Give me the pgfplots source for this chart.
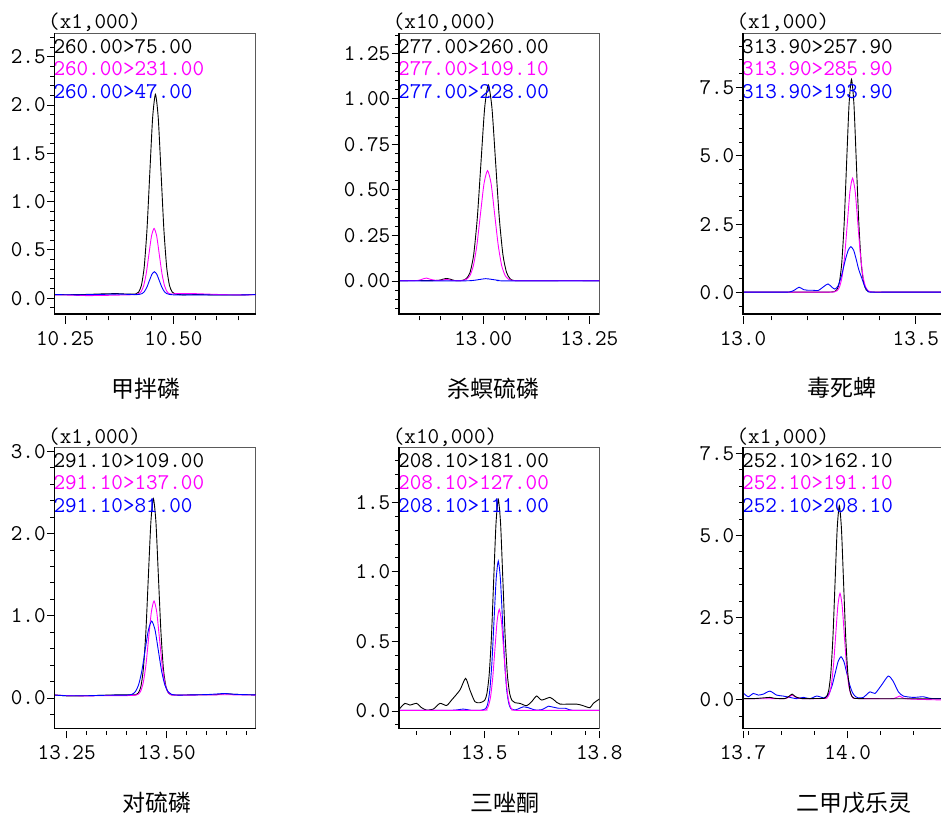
\documentclass[border=0pt]{standalone}
\usepackage{fontspec}
\usepackage{pgfplots}
\pgfplotsset{compat=1.18}
\newfontfamily\cjk{Noto Sans CJK SC}
\definecolor{mag}{HTML}{FF00FF}
\definecolor{blu}{HTML}{0000FF}
\definecolor{framegray}{HTML}{5A5A5A}
\newcommand\tf{\fontsize{22.5}{27}\selectfont\ttfamily}
\newcommand\ttl{\fontsize{23}{27}\selectfont\cjk}
\newcommand\m[1]{\texttt{#1}}
\pgfplotsset{
 chrom/.style={
  scale only axis, clip mode=individual,
  axis line style={draw=framegray, line width=1.5pt},
  tick align=outside, xtick pos=bottom, ytick pos=left,
  major tick length=7.5pt, minor tick length=4pt,
  tick style={black, line width=1pt},
  xtick style={yshift=-2.5pt},
  tick label style={font=\tf, inner sep=1pt},
  xticklabel style={anchor=base, yshift=-24pt},
  /pgf/number format/assume math mode=true,
  every axis plot/.append style={line width=0.9pt, no markers, smooth, tension=0.4},
 },
}
\newcommand\lbl[3]{%
  \node[anchor=base west, font=\tf, text=black, inner sep=0pt, xshift=-1pt, yshift=-20pt] at (rel axis cs:0,1) {#1};
  \node[anchor=base west, font=\tf, text=mag, inner sep=0pt, xshift=-1pt, yshift=-42.7pt] at (rel axis cs:0,1) {#2};
  \node[anchor=base west, font=\tf, text=blu, inner sep=0pt, xshift=-1pt, yshift=-65.4pt] at (rel axis cs:0,1) {#3};
  \draw[black, line width=1.3pt] (rel axis cs:0,1) -- (rel axis cs:0,0) -- (rel axis cs:1,0);
}
\begin{document}
\begin{tikzpicture}
\path[use as bounding box] (0pt,0pt) rectangle (941pt,814pt);

% ---------- Panel 1 ----------
\begin{axis}[chrom, at={(54.3pt,500pt)}, anchor=south west, width=201.4pt, height=280.7pt,
  xmin=10.225, xmax=10.690, ymin=-0.1625, ymax=2.742,
  xtick={10.25,10.50}, xticklabels={\m{10.25},\m{10.50}},
  minor xtick={10.30,10.35,10.40,10.45,10.55,10.60,10.65},
  ytick={0,0.5,1,1.5,2,2.5}, yticklabels={\m{0.0},\m{0.5},\m{1.0},\m{1.5},\m{2.0},\m{2.5}},
  minor ytick={-0.1,0,...,2.7}]
\addplot[black] coordinates {(10.225,0.038) (10.26,0.037) (10.30,0.040) (10.34,0.046) (10.37,0.048) (10.395,0.043) (10.413,0.045) (10.4195,0.063) (10.426,0.131) (10.4325,0.320) (10.439,0.712) (10.4455,1.296) (10.452,1.867) (10.4585,2.110) (10.465,1.867) (10.4715,1.296) (10.478,0.712) (10.4845,0.320) (10.491,0.131) (10.4975,0.063) (10.504,0.045) (10.52,0.036) (10.56,0.038) (10.60,0.034) (10.65,0.034) (10.69,0.040)};
\addplot[mag] coordinates {(10.225,0.036) (10.26,0.033) (10.30,0.028) (10.34,0.030) (10.38,0.034) (10.40,0.036) (10.4134,0.040) (10.4194,0.046) (10.4254,0.068) (10.4314,0.131) (10.4374,0.260) (10.4434,0.453) (10.4494,0.643) (10.4554,0.723) (10.4614,0.643) (10.4674,0.453) (10.4734,0.260) (10.4794,0.131) (10.4854,0.068) (10.4914,0.046) (10.4974,0.044) (10.51,0.050) (10.55,0.048) (10.60,0.040) (10.65,0.035) (10.69,0.037)};
\addplot[blu] coordinates {(10.225,0.038) (10.28,0.036) (10.33,0.040) (10.37,0.044) (10.40,0.040) (10.415,0.038) (10.4215,0.041) (10.4273,0.048) (10.433,0.070) (10.4388,0.115) (10.4445,0.182) (10.4503,0.247) (10.456,0.275) (10.4618,0.247) (10.4675,0.182) (10.4733,0.115) (10.479,0.070) (10.4848,0.048) (10.4905,0.041) (10.50,0.036) (10.55,0.036) (10.60,0.034) (10.65,0.034) (10.69,0.038)};
\lbl{260.00>75.00}{260.00>231.00}{260.00>47.00}
\end{axis}

% ---------- Panel 2 ----------
\begin{axis}[chrom, at={(399pt,500pt)}, anchor=south west, width=200.3pt, height=280.7pt,
  xmin=12.8012, xmax=13.2736, ymin=-0.181, ymax=1.360,
  xtick={13.00,13.25}, xticklabels={\m{13.00},\m{13.25}},
  minor xtick={12.85,12.90,12.95,13.05,13.10,13.15,13.20},
  ytick={0,0.25,0.5,0.75,1,1.25}, yticklabels={\m{0.00},\m{0.25},\m{0.50},\m{0.75},\m{1.00},\m{1.25}},
  minor ytick={-0.15,-0.1,...,1.35}]
\addplot[black] coordinates {(12.8012,0.002) (12.84,0.003) (12.87,0.002) (12.895,0.004) (12.905,0.010) (12.9135,0.014) (12.922,0.010) (12.932,0.003) (12.945,0.002) (12.9516,0.004) (12.9602,0.014) (12.9688,0.047) (12.9774,0.146) (12.986,0.350) (12.9946,0.653) (13.0032,0.950) (13.0118,1.077) (13.0204,0.950) (13.029,0.653) (13.0376,0.350) (13.0462,0.146) (13.0548,0.047) (13.0634,0.012) (13.072,0.003) (13.10,0.002) (13.15,0.002) (13.20,0.003) (13.2736,0.002)};
\addplot[mag] coordinates {(12.8012,0.002) (12.845,0.003) (12.857,0.011) (12.866,0.016) (12.876,0.009) (12.89,0.003) (12.905,0.005) (12.914,0.009) (12.924,0.004) (12.94,0.002) (12.9516,0.003) (12.9599,0.009) (12.9683,0.029) (12.9766,0.084) (12.985,0.198) (12.9933,0.368) (13.0017,0.535) (13.010,0.606) (13.0184,0.535) (13.0267,0.368) (13.0351,0.198) (13.0434,0.084) (13.0518,0.029) (13.0601,0.009) (13.0685,0.003) (13.10,0.002) (13.2736,0.002)};
\addplot[blu] coordinates {(12.8012,0.001) (12.95,0.001) (12.975,0.003) (12.99,0.008) (13.0055,0.013) (13.02,0.009) (13.035,0.004) (13.05,0.001) (13.2736,0.001)};
\lbl{277.00>260.00}{277.00>109.10}{277.00>228.00}
\end{axis}

% ---------- Panel 3 ----------
\begin{axis}[chrom, at={(743pt,500pt)}, anchor=south west, width=201.4pt, height=280.7pt,
  xmin=13.022, xmax=13.579, ymin=-0.778, ymax=9.471,
  xtick={13.022,13.5}, xticklabels={\m{13.0},\m{13.5}},
  minor xtick={13.1,13.2,13.3,13.4},
  ytick={0,2.5,5,7.5}, yticklabels={\m{0.0},\m{2.5},\m{5.0},\m{7.5}},
  minor ytick={-0.5,0,...,9}]
\addplot[black] coordinates {(13.022,0.020) (13.15,0.020) (13.25,0.020) (13.2748,0.037) (13.2815,0.106) (13.2883,0.361) (13.295,1.071) (13.3018,2.543) (13.3085,4.733) (13.3153,6.877) (13.322,7.790) (13.3288,6.877) (13.3355,4.733) (13.3423,2.543) (13.349,1.071) (13.3558,0.361) (13.3625,0.106) (13.3693,0.037) (13.40,0.020) (13.579,0.020)};
\addplot[mag] coordinates {(13.022,0.020) (13.25,0.020) (13.2743,0.029) (13.2815,0.066) (13.2888,0.203) (13.296,0.583) (13.3033,1.371) (13.3105,2.543) (13.3178,3.691) (13.325,4.180) (13.3323,3.691) (13.3395,2.543) (13.3468,1.371) (13.354,0.583) (13.3613,0.203) (13.3685,0.066) (13.3758,0.029) (13.40,0.020) (13.579,0.020)};
\addplot[blu] coordinates {(13.022,0.02) (13.10,0.02) (13.15,0.025) (13.165,0.10) (13.177,0.20) (13.19,0.11) (13.20,0.09) (13.215,0.09) (13.23,0.08) (13.245,0.22) (13.257,0.32) (13.268,0.20) (13.276,0.13) (13.285,0.25) (13.295,0.65) (13.305,1.2) (13.313,1.55) (13.3203,1.68) (13.328,1.55) (13.335,1.22) (13.342,0.85) (13.350,0.55) (13.358,0.25) (13.366,0.07) (13.375,0.02) (13.45,0.02) (13.579,0.02)};
\lbl{313.90>257.90}{313.90>285.90}{313.90>193.90}
\end{axis}

% ---------- Panel 4 ----------
\begin{axis}[chrom, at={(54.3pt,85.7pt)}, anchor=south west, width=201.4pt, height=281pt,
  xmin=13.219, xmax=13.7225, ymin=-0.368, ymax=3.049,
  xtick={13.25,13.50}, xticklabels={\m{13.25},\m{13.50}},
  minor xtick={13.30,13.35,13.40,13.45,13.55,13.60,13.65,13.70},
  ytick={0,1,2,3}, yticklabels={\m{0.0},\m{1.0},\m{2.0},\m{3.0}},
  minor ytick={-0.2,0,...,3.0}]
\addplot[black] coordinates {(13.219,0.038) (13.24,0.030) (13.26,0.025) (13.30,0.028) (13.35,0.035) (13.39,0.040) (13.415,0.040) (13.423,0.040) (13.4292,0.062) (13.4355,0.140) (13.4417,0.358) (13.448,0.811) (13.4542,1.485) (13.4605,2.144) (13.4667,2.425) (13.473,2.144) (13.4792,1.485) (13.4855,0.811) (13.4917,0.358) (13.498,0.140) (13.5042,0.062) (13.5105,0.040) (13.53,0.036) (13.58,0.040) (13.62,0.040) (13.645,0.052) (13.67,0.045) (13.7225,0.038)};
\addplot[mag] coordinates {(13.219,0.036) (13.25,0.030) (13.30,0.026) (13.35,0.030) (13.40,0.030) (13.4211,0.033) (13.4278,0.043) (13.4346,0.080) (13.4413,0.186) (13.4481,0.403) (13.4548,0.728) (13.4616,1.045) (13.4683,1.180) (13.4751,1.045) (13.4818,0.728) (13.4886,0.403) (13.4953,0.186) (13.5021,0.080) (13.5088,0.043) (13.5156,0.035) (13.55,0.035) (13.60,0.038) (13.65,0.040) (13.7225,0.036)};
\addplot[blu] coordinates {(13.219,0.036) (13.25,0.028) (13.30,0.028) (13.35,0.034) (13.40,0.036) (13.413,0.045) (13.4213,0.075) (13.4295,0.157) (13.4378,0.327) (13.446,0.581) (13.4543,0.829) (13.4625,0.935) (13.4708,0.829) (13.479,0.581) (13.4873,0.327) (13.4955,0.157) (13.5038,0.075) (13.512,0.045) (13.53,0.036) (13.60,0.042) (13.645,0.055) (13.67,0.045) (13.7225,0.038)};
\lbl{291.10>109.00}{291.10>137.00}{291.10>81.00}
\end{axis}

% ---------- Panel 5 ----------
\begin{axis}[chrom, at={(399pt,85.7pt)}, anchor=south west, width=200.3pt, height=281pt,
  xmin=13.248, xmax=13.84, ymin=-0.124, ymax=1.895,
  xtick={13.5,13.84}, xticklabels={\m{13.5},\m{13.8}},
  minor xtick={13.3,13.4,13.6,13.7,13.8},
  ytick={0,0.5,1,1.5}, yticklabels={\m{0.0},\m{0.5},\m{1.0},\m{1.5}},
  minor ytick={-0.1,0,...,1.8}]
\addplot[black] coordinates {(13.248,0.012) (13.2655,0.055) (13.2803,0.043) (13.30,0.055) (13.3148,0.024) (13.3296,0.007) (13.3493,0.014) (13.369,0.055) (13.3887,0.040) (13.4034,0.079) (13.4281,0.151) (13.4448,0.235) (13.4576,0.151) (13.4724,0.067) (13.4872,0.060) (13.5009,0.076) (13.5077,0.124) (13.5144,0.258) (13.5212,0.534) (13.5279,0.946) (13.5347,1.348) (13.5414,1.520) (13.5482,1.348) (13.5549,0.946) (13.5617,0.534) (13.5684,0.258) (13.5752,0.124) (13.5819,0.076) (13.5906,0.060) (13.6054,0.055) (13.6251,0.038) (13.6399,0.067) (13.6547,0.108) (13.6695,0.079) (13.6941,0.098) (13.7089,0.074) (13.7236,0.050) (13.7729,0.050) (13.7926,0.038) (13.8123,0.024) (13.8222,0.055) (13.84,0.086)};
\addplot[blu] coordinates {(13.248,0.005) (13.40,0.005) (13.438,0.014) (13.46,0.006) (13.49,0.006) (13.5039,0.017) (13.5102,0.052) (13.5164,0.150) (13.5227,0.352) (13.5289,0.654) (13.5352,0.949) (13.5414,1.078) (13.5477,0.949) (13.5539,0.654) (13.5602,0.352) (13.5664,0.150) (13.5727,0.052) (13.5789,0.017) (13.59,0.008) (13.60,0.015) (13.615,0.030) (13.63,0.024) (13.65,0.008) (13.67,0.010) (13.69,0.035) (13.70,0.030) (13.72,0.020) (13.74,0.020) (13.76,0.006) (13.84,0.005)};
\addplot[mag] coordinates {(13.248,0.005) (13.49,0.005) (13.5059,0.013) (13.5123,0.037) (13.5187,0.103) (13.5251,0.241) (13.5315,0.445) (13.5379,0.646) (13.5443,0.731) (13.5507,0.646) (13.5571,0.445) (13.5635,0.241) (13.5699,0.103) (13.5763,0.037) (13.5827,0.013) (13.60,0.005) (13.84,0.005)};
\lbl{208.10>181.00}{208.10>127.00}{208.10>111.00}
\end{axis}

% ---------- Panel 6 ----------
\begin{axis}[chrom, at={(743pt,85.7pt)}, anchor=south west, width=201.4pt, height=281pt,
  xmin=13.683, xmax=14.293, ymin=-0.871, ymax=7.683,
  xtick={13.683,14.0}, xticklabels={\m{13.7},\m{14.0}},
  minor xtick={13.7,13.8,13.9,14.1,14.2},
  ytick={0,2.5,5,7.5}, yticklabels={\m{0.0},\m{2.5},\m{5.0},\m{7.5}},
  minor ytick={-0.5,0,...,7.5}]
\addplot[blu] coordinates {(13.683,0.21) (13.699,0.09) (13.7141,0.19) (13.7293,0.14) (13.7444,0.17) (13.7646,0.26) (13.7848,0.14) (13.805,0.11) (13.8253,0.07) (13.8455,0.03) (13.8657,0.07) (13.8859,0.03) (13.9061,0.11) (13.9273,0.054) (13.936,0.096) (13.9448,0.212) (13.9535,0.452) (13.9623,0.810) (13.971,1.161) (13.9798,1.310) (13.9886,1.161) (13.9973,0.810) (14.0061,0.452) (14.0148,0.212) (14.0236,0.096) (14.0323,0.054) (14.0475,0.07) (14.0677,0.24) (14.0828,0.19) (14.103,0.45) (14.1232,0.72) (14.1384,0.55) (14.1535,0.24) (14.1687,0.11) (14.199,0.07) (14.2293,0.09) (14.2495,0.04) (14.293,0.03)};
\addplot[mag] coordinates {(13.683,0.030) (13.76,0.030) (13.81,0.035) (13.822,0.08) (13.832,0.14) (13.842,0.08) (13.86,0.035) (13.9313,0.037) (13.9378,0.066) (13.9443,0.171) (13.9508,0.464) (13.9573,1.072) (13.9638,1.977) (13.9703,2.863) (13.9768,3.240) (13.9833,2.863) (13.9898,1.977) (13.9963,1.072) (14.0028,0.464) (14.0093,0.171) (14.0158,0.066) (14.0223,0.037) (14.10,0.030) (14.14,0.035) (14.157,0.11) (14.17,0.04) (14.20,0.015) (14.293,-0.01)};
\addplot[black] coordinates {(13.683,0.030) (13.72,0.035) (13.765,0.07) (13.78,0.04) (13.81,0.035) (13.822,0.10) (13.832,0.17) (13.842,0.09) (13.86,0.035) (13.90,0.035) (13.9299,0.043) (13.9363,0.095) (13.9427,0.288) (13.9491,0.825) (13.9555,1.938) (13.9619,3.593) (13.9683,5.215) (13.9747,5.905) (13.9811,5.215) (13.9875,3.593) (13.9939,1.938) (14.0003,0.825) (14.0067,0.288) (14.0131,0.095) (14.0195,0.043) (14.05,0.030) (14.15,0.030) (14.293,0.030)};
\lbl{252.10>162.10}{252.10>191.10}{252.10>208.10}
\end{axis}

% ---------- scale labels ----------
\node[anchor=base west, font=\tf, inner sep=0pt] at (48pt,785.5pt) {(x1,000)};
\node[anchor=base west, font=\tf, inner sep=0pt] at (392.7pt,785.5pt) {(x10,000)};
\node[anchor=base west, font=\tf, inner sep=0pt] at (736.4pt,785.5pt) {(x1,000)};
\node[anchor=base west, font=\tf, inner sep=0pt] at (48pt,370.7pt) {(x1,000)};
\node[anchor=base west, font=\tf, inner sep=0pt] at (392.7pt,370.7pt) {(x10,000)};
\node[anchor=base west, font=\tf, inner sep=0pt] at (736.4pt,370.7pt) {(x1,000)};

% ---------- titles ----------
\node[font=\ttl, inner sep=0pt] at (145.7pt,425pt) {甲拌磷};
\node[font=\ttl, inner sep=0pt] at (493.3pt,425pt) {杀螟硫磷};
\node[font=\ttl, inner sep=0pt] at (841.7pt,426pt) {毒死蜱};
\node[font=\ttl, inner sep=0pt] at (157.2pt,11pt) {对硫磷};
\node[font=\ttl, inner sep=0pt] at (505pt,11pt) {三唑酮};
\node[font=\ttl, inner sep=0pt] at (853.7pt,11pt) {二甲戊乐灵};
\end{tikzpicture}
\end{document}
